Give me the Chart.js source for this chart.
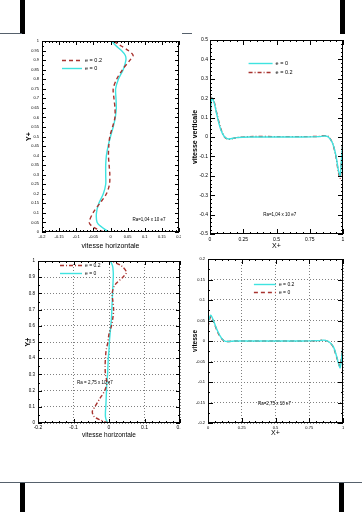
<!DOCTYPE html>
<html>
<head>
<meta charset="utf-8">
<script src="https://cdn.jsdelivr.net/npm/chart.js@4.4.1/dist/chart.umd.min.js"></script>
<style>
  body { margin: 0; background: #fff; }
  #page { position: relative; width: 362px; height: 512px; overflow: hidden; }
  canvas { position: absolute; }
  .bar { position: absolute; background: #000; }
  .rule { position: absolute; height: 1px; background: #56616c; }
</style>
</head>
<body>
<div id="page">
  <!-- page scan decorations -->
  <div class="bar" style="left:20px;top:0;width:5px;height:34px"></div>
  <div class="bar" style="left:340px;top:0;width:5px;height:34px"></div>
  <div class="rule" style="left:0;top:33px;width:22px"></div>
  <div class="rule" style="left:182px;top:33px;width:10px"></div>
  <div class="rule" style="left:0;top:482px;width:362px"></div>
  <div class="bar" style="left:20px;top:483px;width:5px;height:29px"></div>
  <div class="bar" style="left:339px;top:483px;width:5px;height:29px"></div>

  <canvas id="tl" width="181" height="250" style="left:0;top:0"></canvas>
  <canvas id="tr" width="181" height="250" style="left:181px;top:0"></canvas>
  <canvas id="bl" width="181" height="190" style="left:0;top:250px"></canvas>
  <canvas id="br" width="181" height="190" style="left:181px;top:250px"></canvas>
</div>
<script>
// Top left: horizontal velocity profile, Ra = 1.04e7
const tlY   = [0, 0.025, 0.05, 0.1, 0.15, 0.2, 0.25, 0.3, 0.35, 0.4, 0.45, 0.5, 0.55, 0.6, 0.65, 0.7, 0.75, 0.8, 0.85, 0.9, 0.925, 0.95, 0.975, 1];
const tlE0  = [-0.004, -0.025, -0.039, -0.041, -0.034, -0.021, -0.014, -0.014, -0.014, -0.012, -0.007, 0, 0.008, 0.014, 0.017, 0.016, 0.015, 0.023, 0.037, 0.045, 0.043, 0.032, 0.016, 0.003];
const tlE02 = [-0.02, -0.05, -0.062, -0.051, -0.031, -0.012, -0.003, -0.002, -0.004, -0.006, -0.005, -0.002, 0.006, 0.013, 0.013, 0.01, 0.008, 0.018, 0.035, 0.057, 0.066, 0.052, 0.03, 0.008];

// Top right: vertical velocity, Ra = 1.04e7
const trX   = [0, 0.005, 0.015, 0.03, 0.05, 0.08, 0.11, 0.14, 0.2, 0.3, 0.5, 0.7, 0.82, 0.86, 0.89, 0.92, 0.945, 0.965, 0.978, 0.99, 1];
const trE0  = [0, 0.14, 0.2, 0.18, 0.12, 0.04, 0, -0.01, -0.003, 0, 0, 0, 0.002, 0.005, 0, -0.03, -0.09, -0.17, -0.2, -0.1, -0.02];
const trE02 = [0, 0.15, 0.205, 0.185, 0.125, 0.045, 0, -0.012, -0.003, 0.002, 0.002, 0.002, 0.003, 0.007, 0.002, -0.03, -0.095, -0.18, -0.215, -0.11, 0];

// Bottom left: horizontal velocity profile, Ra = 2.75e7
const blY   = [0, 0.02, 0.04, 0.07, 0.1, 0.15, 0.2, 0.25, 0.3, 0.35, 0.4, 0.45, 0.5, 0.55, 0.6, 0.65, 0.7, 0.75, 0.8, 0.85, 0.9, 0.93, 0.97, 1];
const blE0  = [-0.003, -0.008, -0.01, -0.01, -0.009, -0.008, -0.007, -0.006, -0.004, -0.003, -0.002, 0, 0.001, 0.003, 0.005, 0.007, 0.008, 0.009, 0.01, 0.011, 0.012, 0.012, 0.01, 0.004];
const blE02 = [-0.003, -0.026, -0.042, -0.047, -0.04, -0.026, -0.012, -0.006, -0.01, -0.011, -0.01, -0.008, -0.003, 0, 0.007, 0.011, 0.013, 0.011, 0.009, 0.016, 0.039, 0.049, 0.035, 0.007];

// Bottom right: vertical velocity, Ra = 2.75e7
const brX   = [0, 0.02, 0.04, 0.07, 0.1, 0.13, 0.2, 0.3, 0.5, 0.7, 0.82, 0.86, 0.9, 0.93, 0.955, 0.978, 0.99, 1];
const brE02 = [0.045, 0.063, 0.05, 0.025, 0.007, -0.001, 0, 0, 0, 0, 0.001, 0.002, -0.003, -0.015, -0.04, -0.066, -0.04, -0.01];
const brE0  = [0.035, 0.06, 0.048, 0.023, 0.006, -0.001, 0, 0, 0, 0, 0.001, 0.002, -0.003, -0.016, -0.042, -0.062, -0.035, -0.008];

const CYAN = '#3fe3e0';
const RED = '#a8322e';

Chart.defaults.font.family = '"Liberation Sans", Arial, sans-serif';
Chart.defaults.color = '#000';

// box, inward tick marks, legend and Ra note (Tecplot look)
const frame = {
  id: 'frame',
  afterDatasetsDraw(chart, args, o) {
    const { ctx, chartArea: a } = chart;
    const sx = chart.scales.x, sy = chart.scales.y;
    ctx.save();
    ctx.strokeStyle = '#000';
    ctx.lineWidth = 1;
    ctx.setLineDash([]);
    ctx.beginPath();
    sx.ticks.forEach((t, i) => {
      const p = Math.round(sx.getPixelForValue(t.value)) + 0.5;
      ctx.moveTo(p, a.bottom); ctx.lineTo(p, a.bottom - o.major);
      ctx.moveTo(p, a.top); ctx.lineTo(p, a.top + o.major);
      const next = sx.ticks[i + 1];
      if (next) for (let k = 1; k < o.minorX; k++) {
        const q = Math.round(sx.getPixelForValue(t.value + (next.value - t.value) * k / o.minorX)) + 0.5;
        ctx.moveTo(q, a.bottom); ctx.lineTo(q, a.bottom - o.minor);
        ctx.moveTo(q, a.top); ctx.lineTo(q, a.top + o.minor);
      }
    });
    sy.ticks.forEach((t, i) => {
      const p = Math.round(sy.getPixelForValue(t.value)) + 0.5;
      ctx.moveTo(a.left, p); ctx.lineTo(a.left + o.major, p);
      ctx.moveTo(a.right, p); ctx.lineTo(a.right - o.major, p);
      const next = sy.ticks[i + 1];
      if (next) for (let k = 1; k < o.minorY; k++) {
        const q = Math.round(sy.getPixelForValue(t.value + (next.value - t.value) * k / o.minorY)) + 0.5;
        ctx.moveTo(a.left, q); ctx.lineTo(a.left + o.minor, q);
        ctx.moveTo(a.right, q); ctx.lineTo(a.right - o.minor, q);
      }
    });
    ctx.stroke();
    ctx.strokeRect(Math.round(a.left) + 0.5, Math.round(a.top) + 0.5, Math.round(a.width) - 1, Math.round(a.height) - 1);

    // legend rows
    const lg = o.legend;
    ctx.font = lg.size + 'px ' + Chart.defaults.font.family;
    ctx.textBaseline = 'middle';
    ctx.fillStyle = '#000';
    chart.data.datasets.forEach((ds, i) => {
      const x0 = a.left + a.width * lg.fx;
      const y0 = Math.round(a.top + a.height * lg.fy + i * lg.gap) + 0.5;
      ctx.strokeStyle = ds.borderColor;
      ctx.lineWidth = ds.borderWidth;
      ctx.setLineDash(ds.borderDash || []);
      ctx.beginPath();
      ctx.moveTo(x0, y0);
      ctx.lineTo(x0 + lg.len, y0);
      ctx.stroke();
      ctx.fillText(ds.label, x0 + lg.len + 3, y0);
    });

    // Rayleigh number note
    const n = o.note;
    ctx.font = n.size + 'px ' + Chart.defaults.font.family;
    ctx.fillText(n.text, a.left + a.width * n.fx, a.top + a.height * n.fy);
    ctx.restore();
  }
};

function series(label, xs, ys, color, dash) {
  return {
    label,
    data: xs.map((x, i) => ({ x, y: ys[i] })),
    borderColor: color,
    borderWidth: 1.4,
    borderDash: dash,
    pointRadius: 0,
    showLine: true,
    tension: 0.3,
    fill: false
  };
}

function axis(min, max, step, o) {
  return {
    type: 'linear',
    min, max,
    ticks: {
      stepSize: step, autoSkip: false, maxRotation: 0,
      padding: o.pad, font: { size: o.size }, color: '#000',
      callback: v => +v.toFixed(2)
    },
    // no outside tick marks: the inward ones are drawn by the frame plugin
    grid: o.grid
      ? { color: '#808080', drawTicks: false, lineWidth: 1 }
      : { display: false, drawTicks: false },
    border: { display: false, dash: [1, 2] },
    title: {
      display: true, text: o.title, color: '#000',
      font: { size: o.tsize, weight: o.bold ? 'bold' : 'normal', lineHeight: 1 },
      padding: o.tpad
    },
    afterFit: s => {
      if (s.isHorizontal()) s.height = o.room; else s.width = o.room;
      s.paddingLeft = s.paddingRight = s.paddingTop = s.paddingBottom = 0;
    }
  };
}

function plot(id, datasets, pad, xAxis, yAxis, deco) {
  return new Chart(document.getElementById(id), {
    type: 'scatter',
    data: { datasets },
    options: {
      responsive: false,
      animation: false,
      layout: { padding: pad },
      plugins: { legend: { display: false }, tooltip: { enabled: false }, frame: deco },
      scales: { x: xAxis, y: yAxis }
    },
    plugins: [frame]
  });
}

plot('tl',
  [series('e = 0.2', tlE02, tlY, RED, [4, 3]), series('e = 0', tlE0, tlY, CYAN, [])],
  { left: 0, top: 41, right: 2, bottom: 0 },
  axis(-0.2, 0.2, 0.05, { pad: 2, size: 4, title: 'vitesse horizontale', tsize: 7, room: 18, tpad: { top: 0, bottom: 0 } }),
  axis(0, 1, 0.05, { pad: 3, size: 4, title: 'Y+', tsize: 7, bold: true, room: 42, tpad: { top: 26, bottom: 0 } }),
  { major: 4, minor: 2, minorX: 5, minorY: 2,
    legend: { fx: 0.146, fy: 0.1, len: 20, gap: 8, size: 5.5 },
    note: { text: 'Ra=1,04 x 10 e7', fx: 0.66, fy: 0.937, size: 4.5 } });

plot('tr',
  [series('e = 0', trX, trE0, CYAN, []), series('e = 0.2', trX, trE02, RED, [4, 2, 1, 2])],
  { left: 0, top: 40, right: 19, bottom: 0 },
  axis(0, 1, 0.25, { pad: 3, size: 5, title: 'X+', tsize: 7, room: 16, tpad: { top: 0, bottom: 0 } }),
  axis(-0.5, 0.5, 0.1, { pad: 2, size: 5, title: 'vitesse verticale', tsize: 7, bold: true, room: 29, tpad: { top: 11, bottom: 0 } }),
  { major: 5, minor: 2, minorX: 5, minorY: 5,
    legend: { fx: 0.29, fy: 0.119, len: 24, gap: 9, size: 5.5 },
    note: { text: 'Ra=1,04 x 10 e7', fx: 0.4, fy: 0.9, size: 4.5 } });

plot('bl',
  [series('e = 0.2', blE02, blY, RED, [4, 2, 1, 2]), series('e = 0', blE0, blY, CYAN, [])],
  { left: 0, top: 11, right: 1, bottom: 0 },
  axis(-0.2, 0.2, 0.1, { pad: 2, size: 5, title: 'vitesse horizontale', tsize: 6.5, room: 17, grid: true, tpad: { top: 0, bottom: 1.5 } }),
  axis(0, 1, 0.1, { pad: 3, size: 4.5, title: 'Y+', tsize: 7, bold: true, room: 38, grid: true, tpad: { top: 25, bottom: 0 } }),
  { major: 4, minor: 2, minorX: 5, minorY: 2,
    legend: { fx: 0.155, fy: 0.025, len: 22, gap: 8, size: 5 },
    note: { text: 'Ra = 2,75 x 10 e7', fx: 0.275, fy: 0.753, size: 4.5 } });

plot('br',
  [series('e = 0.2', brX, brE02, CYAN, []), series('e = 0', brX, brE0, RED, [4, 3])],
  { left: 0, top: 9, right: 19, bottom: 0 },
  axis(0, 1, 0.25, { pad: 2, size: 4, title: 'X+', tsize: 7, room: 17, grid: true, tpad: { top: 0, bottom: 3.5 } }),
  axis(-0.2, 0.2, 0.05, { pad: 3, size: 4, title: 'vitesse', tsize: 6.5, bold: true, room: 27, grid: true, tpad: { top: 11, bottom: 0 } }),
  { major: 5, minor: 2, minorX: 5, minorY: 2,
    legend: { fx: 0.34, fy: 0.152, len: 22, gap: 8, size: 5 },
    note: { text: 'Ra=2,75 x 10 e7', fx: 0.37, fy: 0.884, size: 4.5 } });
</script>
</body>
</html>
